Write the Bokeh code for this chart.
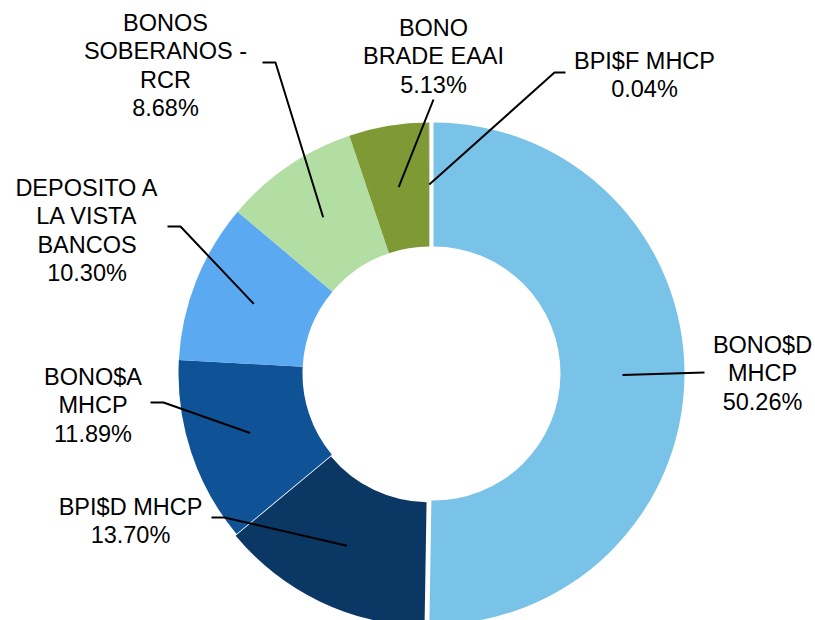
import math
from bokeh.plotting import figure
from bokeh.models import Range1d
from bokeh.embed import file_html
from bokeh.resources import INLINE
from bokeh.core.properties import value

# ---- data ----
categories = ["BONO$D\nMHCP", "BPI$D MHCP", "BONO$A\nMHCP", "DEPOSITO A\nLA VISTA\nBANCOS",
              "BONOS\nSOBERANOS -\nRCR", "BONO\nBRADE EAAI", "BPI$F MHCP"]
shares = [50.26, 13.70, 11.89, 10.30, 8.68, 5.13, 0.04]

# ---- styles / layout ----
colors = ["#79C2E8", "#0A3764", "#0F5396", "#5BA9F0", "#B2DEA3", "#7F9A34", "#A5A5A5"]
explode = [4, 2, 0, 0, 0, 0, 0]
# page coordinates (x, top of first cap line) for label blocks
label_pos = [(762, 335), (130, 497), (92.5, 367), (86.5, 178), (165, 13), (433, 18), (644, 51)]
# leader elbows on label side (page coords)
leader_start = [[(704, 372)], [(211, 517), (224, 517)], [(150, 402), (163, 402)],
                [(167, 226), (180, 226)], [(262, 62), (275, 62)], [(433, 99)],
                [(565, 72), (554, 72)]]

PAGE_H = 620
CX, CY = 429, PAGE_H - 373
R_OUT, R_IN, R_LEAD = 251, 127, 189
FONT_PX = 23.5

W, H = 815, 620
p = figure(width=W, height=H, output_backend="svg", toolbar_location=None,
           x_range=Range1d(0, W), y_range=Range1d(PAGE_H - H, PAGE_H),
           min_border=0, outline_line_color=None)
p.axis.visible = False
p.grid.visible = False
p.background_fill_color = "white"
p.border_fill_color = "white"

total = sum(shares)
cum = 0.0
xs, ys, starts, ends, lead_x, lead_y = [], [], [], [], [], []
for i, s in enumerate(shares):
    f0 = cum / total
    cum += s
    f1 = cum / total
    a_start = math.pi / 2 - 2 * math.pi * f1
    a_end = math.pi / 2 - 2 * math.pi * f0
    mid = (a_start + a_end) / 2
    cx = CX + explode[i] * math.cos(mid)
    cy = CY + explode[i] * math.sin(mid)
    xs.append(cx); ys.append(cy); starts.append(a_start); ends.append(a_end)
    ix = cx + R_LEAD * math.cos(mid)
    iy = cy + R_LEAD * math.sin(mid)
    pts = [(px, PAGE_H - py) for px, py in leader_start[i]] + [(ix, iy)]
    lead_x.append([q[0] for q in pts])
    lead_y.append([q[1] for q in pts])

p.annular_wedge(x=xs, y=ys, inner_radius=R_IN, outer_radius=R_OUT,
                start_angle=starts, end_angle=ends, fill_color=colors,
                line_color=None)

p.multi_line(xs=lead_x, ys=lead_y, line_color="black", line_width=2)

texts = [f"{c}\n{s:.2f}%" for c, s in zip(categories, shares)]
tx = [lp[0] for lp in label_pos]
ty = [PAGE_H - (lp[1] - 4) for lp in label_pos]
p.text(x=tx, y=ty, text=texts, text_font=value("Liberation Sans"),
       text_font_size=f"{FONT_PX}px", text_align="center", text_baseline="top",
       text_line_height=1.10, text_color="black")

open("out.html", "w").write(file_html(p, INLINE))
